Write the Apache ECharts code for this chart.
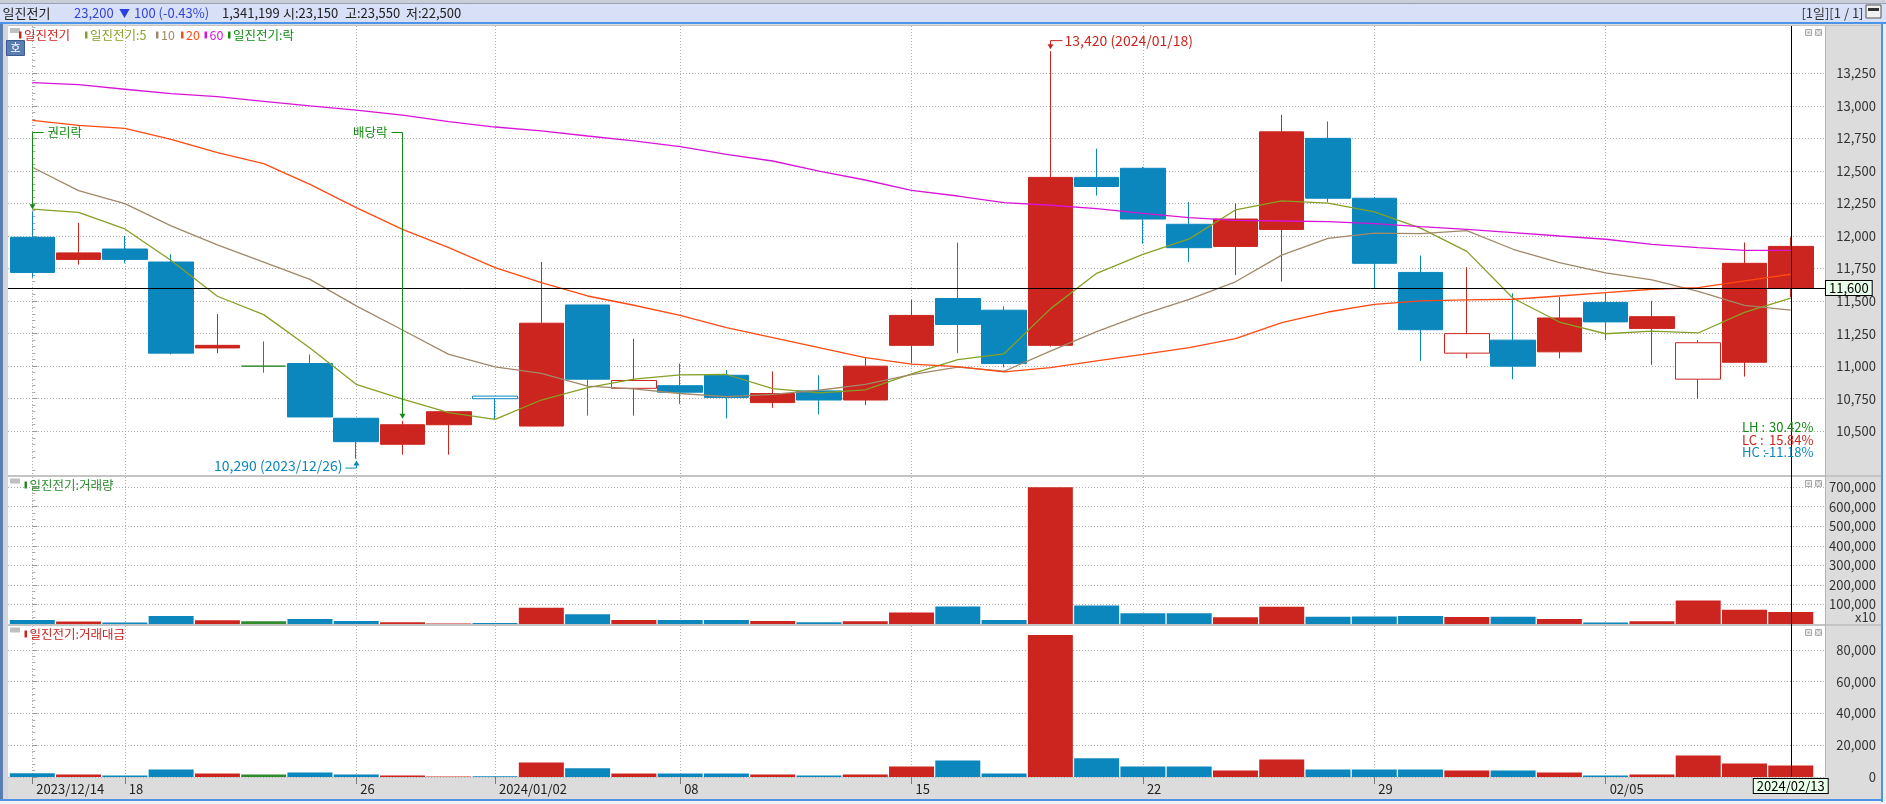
<!DOCTYPE html>
<html>
<head>
<meta charset="utf-8">
<script src="https://cdn.jsdelivr.net/npm/echarts@6.0.0/dist/echarts.min.js"></script>
<style>
html,body{margin:0;padding:0;overflow:hidden;background:#fff;}
#chart{width:1886px;height:804px;}
</style>
</head>
<body>
<div id="chart"></div>
<script>
// ================= DATA =================
const dates = ['2023/12/14','2023/12/15','2023/12/18','2023/12/19','2023/12/20','2023/12/21','2023/12/22','2023/12/26','2023/12/27','2023/12/28',
  '2024/01/02','2024/01/03','2024/01/04','2024/01/05','2024/01/08','2024/01/09','2024/01/10','2024/01/11','2024/01/12',
  '2024/01/15','2024/01/16','2024/01/17','2024/01/18','2024/01/19','2024/01/22','2024/01/23','2024/01/24','2024/01/25','2024/01/26',
  '2024/01/29','2024/01/30','2024/01/31','2024/02/01','2024/02/02','2024/02/05','2024/02/06','2024/02/07','2024/02/08','2024/02/13'];
const open  = [11990,11820,11900,11800,11140,11000,11020,10600,10400,10550,10770,10540,11470,10830,10850,10930,10720,10810,10740,11160,11520,11430,11160,12450,12520,12090,11920,12050,12750,12290,11720,11100,11200,11110,11490,11290,10900,11030,11600];
const close = [11720,11870,11820,11100,11160,11000,10610,10420,10550,10650,10750,11330,10900,10890,10800,10760,10790,10740,11000,11390,11320,11020,12450,12380,12130,11910,12130,12800,12290,11790,11280,11250,11000,11370,11340,11380,11180,11790,11920];
const low   = [11680,11780,11790,11090,11100,10950,10610,10290,10320,10320,10590,10540,10620,10620,10710,10600,10680,10630,10700,11020,11100,10990,11150,12310,11940,11800,11700,11650,12260,11600,11040,11060,10900,11060,11200,11010,10750,10920,11530];
const high  = [12190,12100,12000,11860,11400,11190,11090,10600,10580,10650,10770,11800,11470,11210,11020,10970,10960,10930,11070,11510,11950,11460,13420,12670,12530,12260,12250,12930,12880,12300,11850,11760,11560,11530,11560,11500,11200,11950,11990];
const ma5   = [12207,12182,12054,11812,11537,11396,11140,10861,10746,10643,10592,10740,10835,10900,10933,10936,10827,10795,10818,10940,11050,11095,11440,11713,11859,11978,12200,12269,12252,12186,12060,11882,11522,11339,11249,11269,11255,11413,11523];
const ma10  = [12528,12348,12248,12077,11931,11800,11667,11463,11278,11091,10995,10945,10847,10826,10790,10766,10783,10815,10860,10935,10992,10961,11116,11265,11398,11513,11648,11853,11982,12022,12018,12041,11898,11795,11716,11663,11575,11467,11430];
const ma20  = [12888,12850,12827,12743,12640,12556,12397,12218,12051,11911,11757,11642,11539,11468,11391,11296,11219,11143,11066,11015,10997,10956,10989,11040,11091,11143,11212,11335,11416,11475,11501,11509,11514,11539,11565,11591,11603,11655,11706];
const ma60  = [13178,13162,13127,13093,13070,13034,12999,12967,12929,12878,12837,12807,12768,12730,12686,12627,12576,12499,12430,12351,12307,12256,12236,12210,12174,12141,12120,12115,12110,12095,12072,12051,12026,12000,11975,11936,11911,11890,11890];
const volume = [20000,13000,8000,41000,19000,14000,26000,15000,9000,3000,5000,83000,50000,20000,20000,20000,15000,9000,14000,59000,90000,20000,700000,95000,55000,55000,34000,88000,37000,39000,41000,36000,37000,25000,8000,14000,120000,73000,62000];
const amount = [2400,1580,950,4730,2200,1580,2840,1580,950,300,500,9150,5560,2200,2200,2200,1580,950,1580,6630,10400,2200,89300,11800,6630,6630,4100,11050,4730,4730,4730,4100,4100,2840,950,1580,13570,8520,7260];
const tickIdx    = [0,2,7,10,14,19,24,29,34];
const tickLabels = ['2023/12/14','18','26','2024/01/02','08','15','22','29','02/05'];
const priceTicks  = [10500,10750,11000,11250,11500,11750,12000,12250,12500,12750,13000,13250];
const volumeTicks = [100000,200000,300000,400000,500000,600000,700000];
const amountTicks = [0,20000,40000,60000,80000];
const events = [{index:0, text:'권리락', side:'right'}, {index:8, text:'배당락', side:'left'}];
const crossIdx = 38, crossPrice = 11600;
const header = ['일진전기','23,200','▼','100 (-0.43%)','1,341,199','시:23,150','고:23,550','저:22,500'];
const headerRight = '[1일][1 / 1]';
const legendMain = ['일진전기','일진전기:5','10','20','60','일진전기:락'];
const legendVol = '일진전기:거래량';
const legendAmt = '일진전기:거래대금';
const volUnit = 'x10';

// ================= STYLE =================
const RED='#cc241e', BLUE='#0b87bd', GREEN='#2e8b2e';
const C5='#86a024', C10='#a08868', C20='#ff4a12', C60='#d814d8', CEV='#138a13';
const KR="'Noto Sans CJK KR','Noto Sans',sans-serif";
const X_MIN=-0.525, X_MAX=38.74, LEFT=8, WIDTH=1817;
const GRIDS=[{top:26,height:449},{top:477,height:147},{top:626,height:151}];

function fmt(v){return String(Math.round(v)).replace(/\B(?=(\d{3})+(?!\d))/g, ',');}
const labelMap={}; tickIdx.forEach((k,j)=>labelMap[k]=tickLabels[j]);
function kind(i){
  if(close[i]===open[i]) return 'doji';
  const up=close[i]>open[i];
  const prev=i>0?close[i-1]:null;
  const hollow=prev!=null&&(up?close[i]<prev:close[i]>prev);
  return (up?'up':'down')+(hollow?'H':'');
}
function barColor(i){const k=kind(i);return k==='doji'?GREEN:(k.startsWith('up')?RED:BLUE);}

const candleData=dates.map((d,i)=>{
  const k=kind(i);
  const item={value:[i,open[i],close[i],low[i],high[i]]};
  if(k==='doji') item.itemStyle={color:GREEN,color0:GREEN,borderColor:GREEN,borderColor0:GREEN};
  else if(k==='upH') item.itemStyle={color:'#ffffff',borderColor:RED};
  else if(k==='downH') item.itemStyle={color0:'#ffffff',borderColor0:BLUE};
  return item;
});

const dotted={color:'#b0b0b0',width:1,type:[1,2]};
function xAxisFor(g){
  const b=g===2;
  return {type:'value',gridIndex:g,min:X_MIN,max:X_MAX,
    axisLine:{show:false},
    axisTick:{show:b,customValues:tickIdx,length:7,lineStyle:{color:'#7a7a7a'}},
    axisLabel:{show:b,customValues:tickIdx,formatter:v=>labelMap[v]||'',align:'left',padding:[0,0,0,4],margin:6,color:'#222',fontSize:13,fontFamily:KR},
    splitLine:{show:true,lineStyle:dotted}};
}
function yAxisFor(g,min,max,step,minorSplit,ticks){
  return {type:'value',gridIndex:g,position:'right',min,max,minInterval:step,maxInterval:step,
    axisLine:{show:false},
    axisTick:{show:true,customValues:ticks,length:5,lineStyle:{color:'#9a9a9a'}},
    minorTick:{show:true,splitNumber:minorSplit,length:3,lineStyle:{color:'#a8a8a8'}},
    axisLabel:{customValues:ticks,hideOverlap:false,align:'right',margin:51,color:'#333',fontSize:13,fontFamily:KR,formatter:v=>fmt(v)},
    splitLine:{show:true,lineStyle:dotted}};
}
function maLine(arr,color){
  return {type:'line',xAxisIndex:0,yAxisIndex:0,data:arr.map((v,i)=>[i,v]),symbol:'none',silent:true,
    lineStyle:{color,width:1.3},z:4};
}
const vLine={silent:true,symbol:'none',animation:false,lineStyle:{color:'#000',width:1,type:'solid'}};

const option={
  animation:false,
  backgroundColor:'#dcdcdc',
  grid:GRIDS.map(g=>({left:LEFT,width:WIDTH,top:g.top,height:g.height,outerBoundsMode:'none',containLabel:false})),
  xAxis:[xAxisFor(0),xAxisFor(1),xAxisFor(2)],
  yAxis:[
    yAxisFor(0,10164,13613,250,5,priceTicks),
    yAxisFor(1,0,752000,100000,3,volumeTicks),
    yAxisFor(2,0,95000,20000,5,amountTicks)
  ],
  series:[
    {type:'candlestick',name:'일진전기',xAxisIndex:0,yAxisIndex:0,data:candleData,barWidth:45,silent:true,z:3,
      itemStyle:{color:RED,color0:BLUE,borderColor:RED,borderColor0:BLUE,borderWidth:1},
      markLine:Object.assign({},vLine,{data:[
        {yAxis:crossPrice,label:{show:true,position:'end',distance:1,formatter:fmt(crossPrice),color:'#000',fontSize:13,fontFamily:KR,
          backgroundColor:'#eaffea',borderColor:'#000',borderWidth:1,padding:[0,3,0,3],lineHeight:14}},
        {xAxis:crossIdx,label:{show:false}}]})},
    maLine(ma5,C5),maLine(ma10,C10),maLine(ma20,C20),maLine(ma60,C60),
    {type:'bar',xAxisIndex:1,yAxisIndex:1,barWidth:45,silent:true,
      data:volume.map((v,i)=>({value:[i,v],itemStyle:{color:barColor(i)}})),
      markLine:Object.assign({},vLine,{data:[{xAxis:crossIdx,label:{show:false}}]})},
    {type:'bar',xAxisIndex:2,yAxisIndex:2,barWidth:45,silent:true,
      data:amount.map((v,i)=>({value:[i,v],itemStyle:{color:barColor(i)}})),
      markLine:Object.assign({},vLine,{data:[{xAxis:crossIdx,label:{show:true,position:'start',distance:2,formatter:dates[crossIdx],
        color:'#000',fontSize:13,fontFamily:KR,backgroundColor:'#eaffea',borderColor:'#000',borderWidth:1,padding:[0,3,0,3],lineHeight:14}}]})}
  ]
};

const chart=echarts.init(document.getElementById('chart'),null,{renderer:'canvas',width:1886,height:804});
chart.setOption(option);

// ================= DECORATION & ANNOTATIONS =================
const G=[];
function rect(x,y,w,h,fill,z,extra){G.push({type:'rect',z:z==null?-10:z,silent:true,shape:{x,y,width:w,height:h},style:Object.assign({fill},extra||{})});}
function ln(x1,y1,x2,y2,stroke,w,z){G.push({type:'line',z:z==null?-5:z,silent:true,shape:{x1,y1,x2,y2},style:{stroke,lineWidth:w||1}});}
function txt(x,y,t,fill,font,align,z){G.push({type:'text',z:z==null?20:z,silent:true,x,y,style:{text:t,fill,font,textAlign:align||'left',textVerticalAlign:'middle'}});}
function tri(x,tipY,dir,fill){const h=5,w=3;const by=tipY-dir*h;G.push({type:'polygon',z:21,silent:true,shape:{points:[[x-w,by],[x+w,by],[x,tipY]]},style:{fill}});}

// frame
rect(0,0,1886,4,'#c9ced8');
rect(0,4,1886,18,'#d8e0f8');
ln(0,3.5,1886,3.5,'#98a2b2',1);
rect(0,22,1886,2,'#4d94e8',-9);
GRIDS.forEach(g=>rect(LEFT,g.top,WIDTH,g.height,'#ffffff'));
rect(0,24,3,776,'#5b7db0');
rect(3,24,5,776,'#d3d6dc');
rect(1881,22,2,780,'#4d94e8',-9);
rect(1883,22,3,782,'#eeeeee');
rect(0,799,1883,2,'#4d94e8',-9);
rect(0,801,1886,3,'#f2f2f2');
rect(LEFT,475,1873,2,'#c4c4c4',-8);
rect(LEFT,624,1873,2,'#c4c4c4',-8);
ln(1825.5,26,1825.5,777,'#b4b4b4',1,-8);
ln(LEFT,25.5,1881,25.5,'#c4c4c4',1,-8);

// header texts
const hx=[2.5,74,119,134,222,283,345,406];
const hc=['#222','#3344dd','#2a3ee0','#3344dd','#222','#222','#222','#222'];
header.forEach((t,j)=>txt(hx[j],13.5,t,hc[j],(j===2?'11px ':'13px ')+KR));
txt(1863.5,13.5,headerRight,'#333','13px '+KR,'right');
rect(1866,5,15,13,'#f0f0f0',5,{stroke:'#555',lineWidth:1});
rect(1868,8,11,3,'#333',6);

// panel icons
GRIDS.forEach(g=>{
  rect(1805.5,g.top+3.5,6,6,'#eeeeee',5,{stroke:'#a8a8a8',lineWidth:1});
  rect(1807.5,g.top+5.5,2,2,'#a8a8a8',6);
  rect(1815.5,g.top+3.5,6,6,'#c8c8c8',5,{stroke:'#a8a8a8',lineWidth:1});
  txt(1818.5,g.top+6.5,'×','#fff','9px '+KR,'center',7);
});

// volume unit label
txt(1876,617,volUnit,'#333','13px '+KR,'right');

// legends
const lgX=[19,85,156,181,204.5,228], lgC=[RED,C5,C10,C20,C60,CEV];
rect(10,28,10,5,'#c0c0c0',5);
legendMain.forEach((t,j)=>{rect(lgX[j],31.5,2.5,7,lgC[j],5);txt(lgX[j]+5,35,t,lgC[j],'12.5px '+KR);});
rect(10,478.5,10,5,'#c0c0c0',5);
rect(24.5,481.5,2.5,7,'#2a8a2a',5);txt(29.5,485.5,legendVol,'#2a8a2a','12.5px '+KR);
rect(10,627.5,10,5,'#c0c0c0',5);
rect(24.5,630.5,2.5,7,RED,5);txt(29.5,634.5,legendAmt,RED,'12.5px '+KR);
// 호 button
rect(6.5,40.5,18,15,'#5b7db5',5,{stroke:'#3d5b8e',lineWidth:1});
txt(15.5,48,'호','#fff','11px '+KR,'center',6);

function P(x,y){return chart.convertToPixel({gridIndex:0},[x,y]);}
// rights/dividend events
events.forEach(ev=>{
  const p=P(ev.index,high[ev.index]);const x=Math.round(p[0])+0.5;const tip=p[1]-2;const yTop=132.5;
  tri(x,tip,1,CEV);
  ln(x,yTop,x,tip-4,CEV,1,20);
  if(ev.side==='right'){ln(x,yTop,x+11,yTop,CEV,1,20);txt(x+15,yTop,ev.text,CEV,'12.5px '+KR,'left');}
  else{ln(x,yTop,x-11,yTop,CEV,1,20);txt(x-15,yTop,ev.text,CEV,'12.5px '+KR,'right');}
});
// highest / lowest
let hiI=0,loI=0;high.forEach((v,i)=>{if(v>high[hiI])hiI=i;});low.forEach((v,i)=>{if(v<low[loI])loI=i;});
{
  const p=P(hiI,high[hiI]);const x=Math.round(p[0])+0.5;const tip=p[1]-2;const cy=tip-8.5;
  tri(x,tip,1,RED);ln(x,cy,x,tip-4,RED,1,20);ln(x,cy,x+12,cy,RED,1,20);
  txt(x+14,cy,fmt(high[hiI])+' ('+dates[hiI]+')',RED,'14px '+KR,'left');
}
{
  const p=P(loI,low[loI]);const x=Math.round(p[0])+0.5;const tip=p[1]+2;const cy=tip+7.5;
  tri(x,tip,-1,BLUE);ln(x,tip+4,x,cy,BLUE,1,20);ln(x,cy,x-11,cy,BLUE,1,20);
  txt(x-14,cy-2,fmt(low[loI])+' ('+dates[loI]+')',BLUE,'14px '+KR,'right');
}
// LH / LC / HC
const last=close[close.length-1];
const stats=[['LH',(high[hiI]-low[loI])/low[loI],CEV],['LC',(last-low[loI])/low[loI],RED],['HC',(last-high[hiI])/high[hiI],BLUE]];
stats.forEach((s,j)=>{const y=427.5+j*12.5;txt(1742,y,s[0]+' :',s[2],'13px '+KR,'left');txt(1813.5,y,(s[1]*100).toFixed(2)+'%',s[2],'13px '+KR,'right');});
// crosshair vertical through all panels
{const p=chart.convertToPixel({gridIndex:0},[crossIdx,crossPrice]);const x=Math.round(p[0])+0.5;ln(x,26,x,777,'#000',1,15);}

chart.setOption({graphic:{elements:G}});
</script>
</body>
</html>
